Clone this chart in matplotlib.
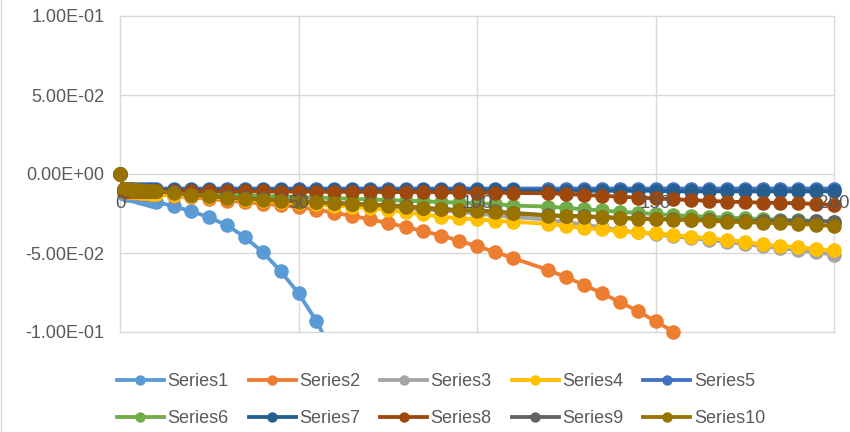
import matplotlib
matplotlib.use("agg")
from matplotlib import pyplot as plt
from matplotlib.lines import Line2D

FONT = "Liberation Sans"
TEXT_GREY = "#595959"
GRID_GREY = "#D9D9D9"
Y_MIN, Y_MAX = -0.1, 0.1

x_values = [0, 1, 2, 3, 4, 5, 6, 7, 8, 9, 10,
            15, 20, 25, 30, 35, 40, 45, 50, 55, 60, 65, 70, 75, 80, 85, 90, 95, 100, 105, 110,
            120, 125, 130, 135, 140, 145, 150, 155, 160, 165, 170, 175, 180, 185, 190, 195, 200]

series1 = [0, -0.0125, -0.0130, -0.0135, -0.0140, -0.0145, -0.0150, -0.0156, -0.0162, -0.0168, -0.0175,
           -0.0205, -0.0235, -0.0275, -0.0325, -0.0400, -0.0495, -0.0615, -0.0755, -0.0930, -0.1150]

series2 = [0, -0.0110, -0.0112, -0.0114, -0.0116, -0.0118, -0.0120, -0.0122, -0.0124, -0.0126, -0.0128,
           -0.0138, -0.0148, -0.0158, -0.0168, -0.0178, -0.0188, -0.0198, -0.0210, -0.0225, -0.0245,
           -0.0265, -0.0287, -0.0310, -0.0335, -0.0362, -0.0390, -0.0422, -0.0458, -0.0492, -0.0532,
           -0.0608, -0.0654, -0.0702, -0.0755, -0.0810, -0.0867, -0.0932, -0.0997]

series3 = [0, -0.0105, -0.0107, -0.0109, -0.0111, -0.0113, -0.0115, -0.0117, -0.0119, -0.0121, -0.0123,
           -0.0130, -0.0138, -0.0145, -0.0152, -0.0160, -0.0167, -0.0174, -0.0180, -0.0186, -0.0192,
           -0.0198, -0.0204, -0.0210, -0.0217, -0.0224, -0.0232, -0.0240, -0.0250, -0.0262, -0.0272,
           -0.0290, -0.0305, -0.0320, -0.0338, -0.0355, -0.0370, -0.0382, -0.0394, -0.0406, -0.0418,
           -0.0430, -0.0443, -0.0458, -0.0470, -0.0482, -0.0496, -0.0510]

series4 = [0, -0.0108, -0.0110, -0.0112, -0.0114, -0.0116, -0.0118, -0.0120, -0.0122, -0.0124, -0.0126,
           -0.0133, -0.0140, -0.0148, -0.0155, -0.0162, -0.0170, -0.0178, -0.0186, -0.0193, -0.0200,
           -0.0208, -0.0216, -0.0228, -0.0242, -0.0256, -0.0270, -0.0280, -0.0287, -0.0296, -0.0302,
           -0.0316, -0.0329, -0.0342, -0.0350, -0.0362, -0.0370, -0.0375, -0.0386, -0.0397, -0.0407,
           -0.0418, -0.0428, -0.0446, -0.0458, -0.0462, -0.0476, -0.0482]

series5 = [0, -0.0092, -0.0092, -0.0092, -0.0092, -0.0092, -0.0092, -0.0092, -0.0092, -0.0092, -0.0092,
           -0.0092, -0.0092, -0.0092, -0.0092, -0.0092, -0.0092, -0.0092, -0.0092, -0.0092, -0.0092,
           -0.0092, -0.0092, -0.0092, -0.0092, -0.0092, -0.0092, -0.0092, -0.0092, -0.0092, -0.0092,
           -0.0092, -0.0092, -0.0092, -0.0092, -0.0092, -0.0092, -0.0092, -0.0092, -0.0092, -0.0092,
           -0.0092, -0.0092, -0.0092, -0.0092, -0.0092, -0.0092, -0.0092]

series6 = [0, -0.0100, -0.0101, -0.0102, -0.0103, -0.0104, -0.0105, -0.0106, -0.0107, -0.0108, -0.0110,
           -0.0116, -0.0121, -0.0126, -0.0131, -0.0135, -0.0139, -0.0142, -0.0145, -0.0149, -0.0153,
           -0.0157, -0.0161, -0.0165, -0.0169, -0.0173, -0.0177, -0.0181, -0.0186, -0.0190, -0.0200,
           -0.0206, -0.0214, -0.0224, -0.0230, -0.0240, -0.0245, -0.0254, -0.0260, -0.0266, -0.0271,
           -0.0276, -0.0280, -0.0285, -0.0289, -0.0293, -0.0297, -0.0301]

series7 = [0, -0.0100, -0.0100, -0.0100, -0.0100, -0.0100, -0.0100, -0.0100, -0.0100, -0.0100, -0.0100,
           -0.0102, -0.0102, -0.0102, -0.0102, -0.0102, -0.0102, -0.0102, -0.0102, -0.0102, -0.0104,
           -0.0104, -0.0104, -0.0104, -0.0104, -0.0104, -0.0104, -0.0104, -0.0104, -0.0104, -0.0104,
           -0.0106, -0.0106, -0.0106, -0.0106, -0.0106, -0.0106, -0.0106, -0.0110, -0.0110, -0.0110,
           -0.0110, -0.0110, -0.0110, -0.0110, -0.0110, -0.0110, -0.0110]

series8 = [0, -0.0105, -0.0105, -0.0105, -0.0105, -0.0105, -0.0105, -0.0105, -0.0105, -0.0105, -0.0106,
           -0.0108, -0.0108, -0.0109, -0.0109, -0.0110, -0.0110, -0.0111, -0.0111, -0.0112, -0.0112,
           -0.0113, -0.0113, -0.0114, -0.0114, -0.0115, -0.0116, -0.0117, -0.0118, -0.0119, -0.0120,
           -0.0122, -0.0127, -0.0133, -0.0138, -0.0143, -0.0149, -0.0154, -0.0160, -0.0165, -0.0170,
           -0.0175, -0.0178, -0.0181, -0.0183, -0.0185, -0.0190, -0.0196]

series9 = [0, -0.0094, -0.0096, -0.0098, -0.0100, -0.0102, -0.0104, -0.0105, -0.0106, -0.0107, -0.0108,
           -0.0117, -0.0130, -0.0139, -0.0147, -0.0154, -0.0159, -0.0167, -0.0172, -0.0177, -0.0183,
           -0.0187, -0.0193, -0.0197, -0.0205, -0.0213, -0.0221, -0.0227, -0.0231, -0.0237, -0.0246,
           -0.0261, -0.0264, -0.0267, -0.0272, -0.0277, -0.0281, -0.0284, -0.0286, -0.0288, -0.0292,
           -0.0296, -0.0297, -0.0296, -0.0297, -0.0298, -0.0299, -0.0302]

series10 = [0, -0.0095, -0.0097, -0.0099, -0.0101, -0.0103, -0.0105, -0.0106, -0.0107, -0.0108, -0.0110,
            -0.0120, -0.0133, -0.0142, -0.0150, -0.0157, -0.0162, -0.0170, -0.0175, -0.0180, -0.0186,
            -0.0190, -0.0196, -0.0200, -0.0208, -0.0216, -0.0224, -0.0230, -0.0234, -0.0240, -0.0249,
            -0.0264, -0.0267, -0.0270, -0.0275, -0.0280, -0.0284, -0.0287, -0.0289, -0.0291, -0.0296,
            -0.0302, -0.0305, -0.0308, -0.0312, -0.0316, -0.0322, -0.0330]

series_values = [series1, series2, series3, series4, series5,
                 series6, series7, series8, series9, series10]
series_names = ["Series1", "Series2", "Series3", "Series4", "Series5",
                "Series6", "Series7", "Series8", "Series9", "Series10"]
series_colors = ["#5B9BD5", "#ED7D31", "#A5A5A5", "#FFC000", "#4472C4",
                 "#70AD47", "#255E91", "#9E480E", "#636363", "#997300"]

x_ticks = [0, 50, 100, 150, 200]
x_tick_labels = ["0", "50", "100", "150", "200"]
y_ticks = [-0.1, -0.05, 0.0, 0.05, 0.1]
y_tick_labels = ["-1.00E-01", "-5.00E-02", "0.00E+00", "5.00E-02", "1.00E-01"]


def draw_series(ax, xs, ys, color, z):
    """Line is clipped to the plot box, markers are drawn whole if the point is in range."""
    xs = xs[:len(ys)]
    ax.plot(xs, ys, color=color, lw=2.75, solid_capstyle="round", zorder=z)
    inside = [(x, y) for x, y in zip(xs, ys) if Y_MIN - 1e-9 <= y <= Y_MAX]
    ax.plot([p[0] for p in inside], [p[1] for p in inside], ls="none", marker="o",
            ms=10.5, color=color, markeredgewidth=0, clip_on=False, zorder=z)


fig = plt.figure(figsize=(8.5, 4.32), dpi=100)
ax = fig.add_axes([120 / 850, 1 - 332 / 432, 714 / 850, 316 / 432])

ax.set_xlim(0, 200)
ax.set_ylim(Y_MIN, Y_MAX)
for side in ax.spines.values():
    side.set_visible(False)

ax.set_xticks(x_ticks)
ax.set_yticks(y_ticks)
ax.set_yticklabels(y_tick_labels, fontfamily=FONT, fontsize=13, color=TEXT_GREY)
ax.tick_params(axis="both", length=0)
ax.tick_params(axis="y", pad=11)
ax.tick_params(axis="x", labelbottom=False)
ax.grid(True, color=GRID_GREY, lw=1)
ax.set_axisbelow(True)
for gl in ax.get_xgridlines() + ax.get_ygridlines():
    gl.set_clip_on(False)

for i, (ys, color) in enumerate(zip(series_values, series_colors)):
    draw_series(ax, x_values, ys, color, 3 + i)

# category labels sit just under the zero line and over the data
for xv, lab in zip(x_ticks, x_tick_labels):
    ax.annotate(lab, xy=(xv, 0), xytext=(0, -15), textcoords="offset points",
                ha="center", va="top", fontfamily=FONT, fontsize=13.5,
                color=TEXT_GREY, zorder=20, annotation_clip=False)

handles = [Line2D([], [], color=c, lw=2.75, marker="o", ms=7.5, markeredgewidth=0)
           for c in series_colors]
# matplotlib fills legend columns first, so interleave the two rows
order = [0, 5, 1, 6, 2, 7, 3, 8, 4, 9]
fig.legend([handles[i] for i in order], [series_names[i] for i in order],
           ncol=5, loc="center", bbox_to_anchor=(441 / 850, 1 - 400 / 432),
           frameon=False, prop={"family": FONT, "size": 13}, labelcolor=TEXT_GREY,
           handlelength=2.6, handletextpad=0.2, columnspacing=1.1, labelspacing=1.1)

fig.add_artist(Line2D([0.6 / 850, 0.6 / 850], [0, 1], color=GRID_GREY, lw=1,
                      transform=fig.transFigure))

fig.savefig("out.png", dpi=100)
